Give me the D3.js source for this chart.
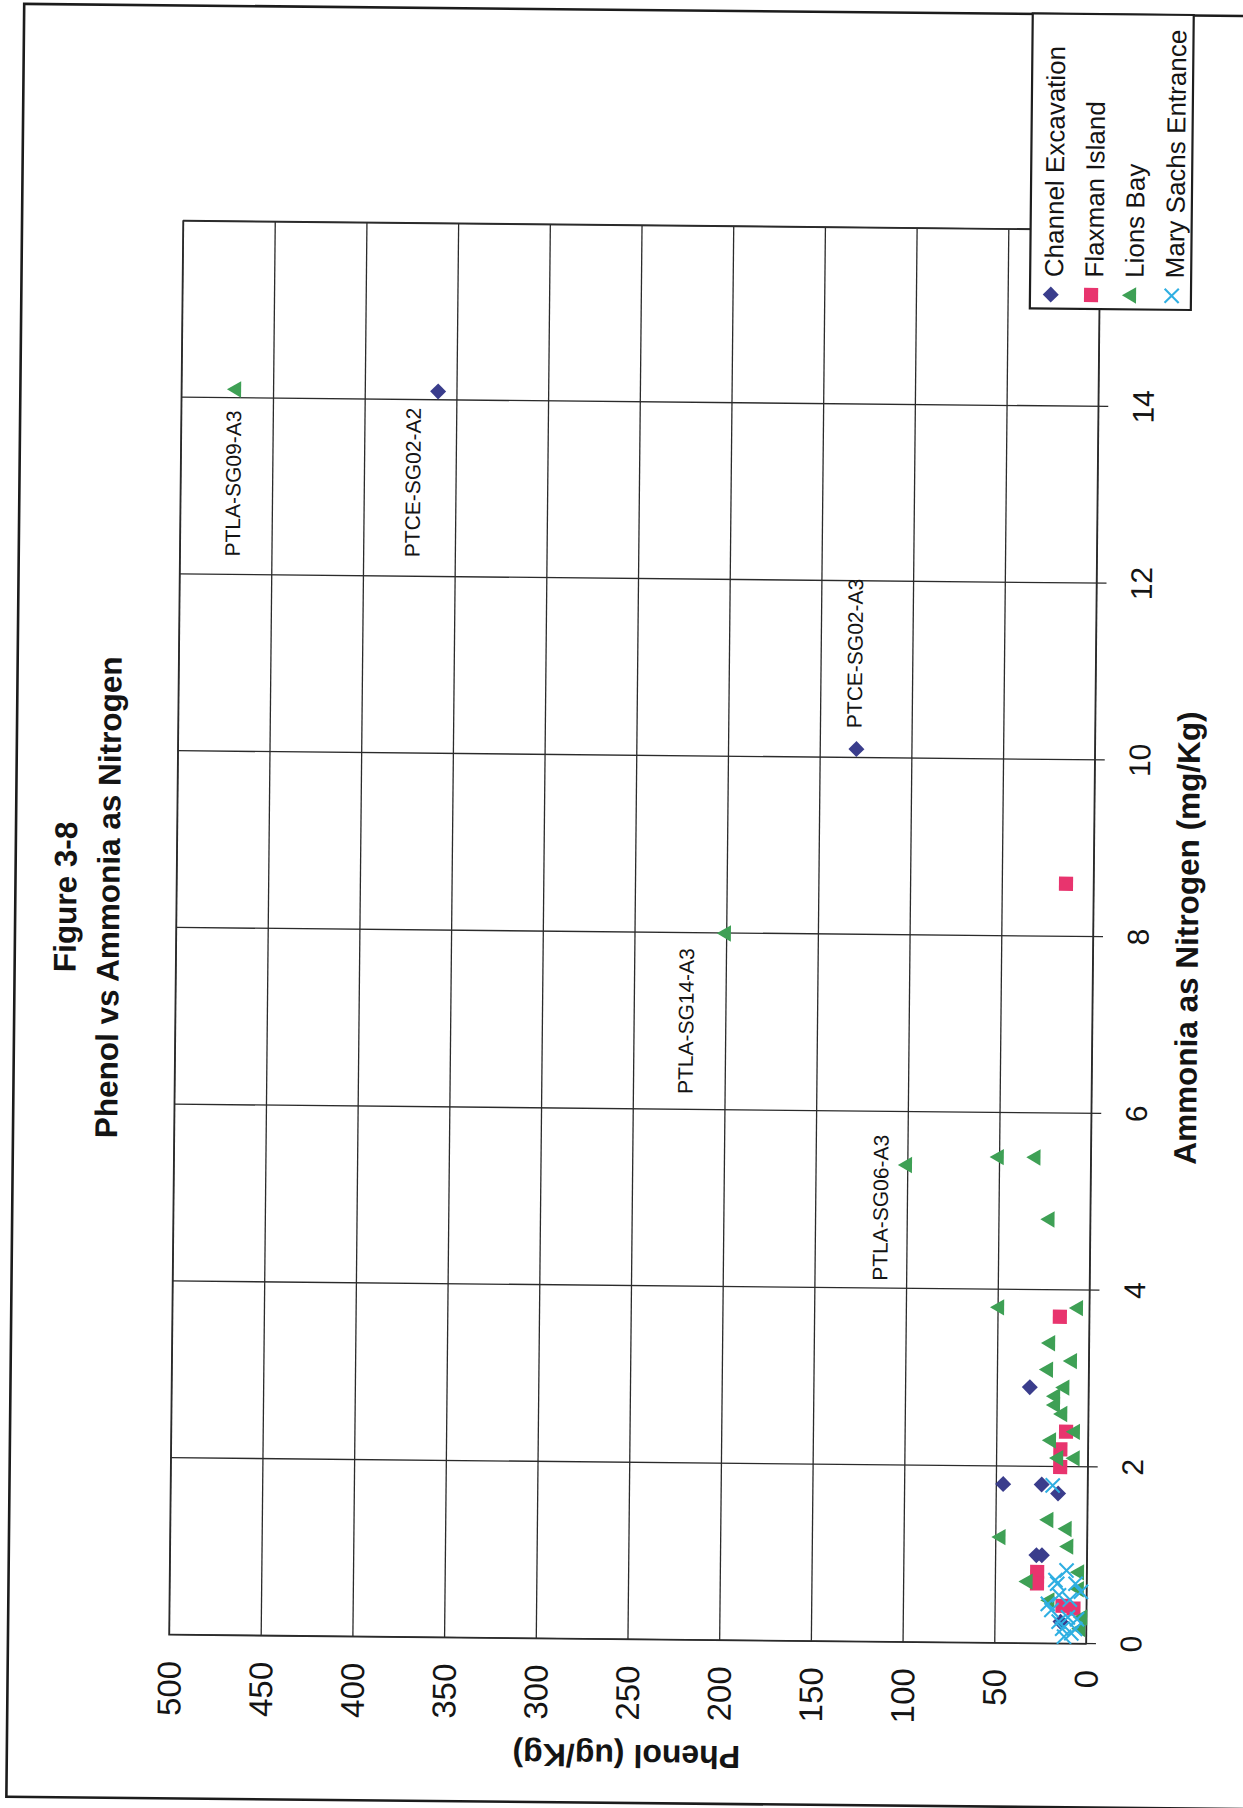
<!DOCTYPE html>
<html>
<head>
<meta charset="utf-8">
<title>Figure 3-8 Phenol vs Ammonia as Nitrogen</title>
<script src="https://cdn.jsdelivr.net/npm/d3@7"></script>
<style>
  html, body { margin: 0; padding: 0; background: #ffffff; }
  svg { display: block; }
  text { font-family: "Liberation Sans", Arial, Helvetica, sans-serif; fill: #141414; }
</style>
</head>
<body>
<svg id="chart" width="1243" height="1808"></svg>
<script>
// ---- data -------------------------------------------------------------
const ammoniaTicks = [0, 2, 4, 6, 8, 10, 12, 14, 16];
const phenolTicks = [0, 50, 100, 150, 200, 250, 300, 350, 400, 450, 500];
const seriesNames = ["Channel Excavation", "Flaxman Island", "Lions Bay", "Mary Sachs Entrance"];

// each point: [ammonia as nitrogen (mg/Kg), phenol (ug/Kg)]
const channelExcavation = [
  [14.1, 360], [10.1, 130], [2.9, 32], [1.8, 46], [1.8, 25], [1.7, 16],
  [1.0, 27.5], [1.0, 24.5], [0.25, 14]
];
const flaxmanIsland = [
  [8.6, 15], [3.7, 16], [2.4, 12], [2.2, 15], [2.0, 15], [0.81, 27],
  [0.68, 27], [0.43, 13], [0.40, 7]
];
const lionsBay = [
  [14.1, 470], [8.0, 200], [5.4, 100], [5.5, 50], [5.5, 30], [4.8, 22],
  [3.8, 49], [3.8, 6], [3.4, 21], [3.2, 9], [3.1, 22], [2.9, 13],
  [2.8, 18], [2.7, 18], [2.6, 14], [2.4, 7], [2.3, 20], [2.1, 16],
  [2.1, 7], [1.4, 21], [1.3, 11], [1.2, 47], [1.1, 10], [0.70, 32],
  [0.81, 4], [0.62, 4], [0.49, 20], [0.30, 2], [0.17, 3]
];
const marySachsEntrance = [
  [1.79, 19], [0.83, 11], [0.72, 17], [0.68, 16], [0.68, 6], [0.59, 3],
  [0.55, 15], [0.50, 9], [0.45, 21], [0.38, 19], [0.30, 10], [0.28, 5],
  [0.25, 15], [0.17, 13], [0.17, 6], [0.12, 8], [0.08, 12]
];

// sample ids written next to individual points (series name, index in that series)
const sampleLabels = [
  { series: "Lions Bay", index: 0, text: "PTLA-SG09-A3" },
  { series: "Channel Excavation", index: 0, text: "PTCE-SG02-A2" },
  { series: "Channel Excavation", index: 1, text: "PTCE-SG02-A3" },
  { series: "Lions Bay", index: 1, text: "PTLA-SG14-A3" },
  { series: "Lions Bay", index: 2, text: "PTLA-SG06-A3" }
];

// ---- layout -----------------------------------------------------------
const labelOffsets = [[-167, 5], [-166, -17], [21, 5], [-161, -32], [-116, -19]];
const sheetTilt = 0.57;          // the printed sheet sits slightly askew
const W = 1414, H = 917;         // plot area of the landscape chart

const seriesData = {
  "Channel Excavation": channelExcavation,
  "Flaxman Island": flaxmanIsland,
  "Lions Bay": lionsBay,
  "Mary Sachs Entrance": marySachsEntrance
};

const crossSymbol = {
  draw(ctx, size) {
    const r = Math.sqrt(size) / 2;
    ctx.moveTo(-r, -r); ctx.lineTo(r, r);
    ctx.moveTo(-r, r); ctx.lineTo(r, -r);
  }
};

const seriesStyle = {
  "Channel Excavation": { type: d3.symbolSquare, size: 128, rotate: 45, fill: "#3a3d8c", stroke: "none" },
  "Flaxman Island":     { type: d3.symbolSquare, size: 200, rotate: 0, fill: "#e8346e", stroke: "none" },
  "Lions Bay":          { type: d3.symbolTriangle, size: 116, rotate: 0, fill: "#3ea055", stroke: "none" },
  "Mary Sachs Entrance":{ type: crossSymbol, size: 200, rotate: 0, fill: "none", stroke: "#2fafe2" }
};

const svg = d3.select("#chart");
svg.append("rect").attr("width", 1243).attr("height", 1808).attr("fill", "#ffffff");

const sheet = svg.append("g").attr("transform", `rotate(${sheetTilt} 634.5 932.5)`);

// page frame
sheet.append("rect")
  .attr("x", 15).attr("y", 10).attr("width", 1260).attr("height", 1793)
  .attr("fill", "none").attr("stroke", "#1c1c1c").attr("stroke-width", 2.6);

// the chart is laid out in landscape and turned a quarter turn on the page
const g = sheet.append("g").attr("transform", "translate(176,1639.5) rotate(-90)");

const x = d3.scaleLinear().domain([0, 16]).range([0, W]);
const y = d3.scaleLinear().domain([0, 500]).range([H, 0]);

// phenol axis with horizontal gridlines
g.append("g")
  .call(d3.axisLeft(y).tickValues(phenolTicks).tickSizeInner(-W).tickSizeOuter(0).tickPadding(26))
  .call(a => a.select(".domain").remove())
  .call(a => a.selectAll(".tick line").attr("stroke", "#2b2b2b").attr("stroke-width", 1.3))
  .call(a => a.selectAll(".tick text").attr("font-size", 33).attr("dy", "0.35em"));

// ammonia axis with vertical gridlines and outward ticks
g.append("g")
  .attr("transform", `translate(0,${H + 10})`)
  .call(d3.axisBottom(x).tickValues(ammoniaTicks).tickSizeInner(-(H + 10)).tickSizeOuter(0).tickFormat(d3.format("d")))
  .call(a => a.select(".domain").remove())
  .call(a => a.selectAll(".tick line").attr("stroke", "#2b2b2b").attr("stroke-width", 1.3))
  .call(a => a.selectAll(".tick text").attr("font-size", 30).attr("y", 45.5).attr("dy", null));

// plot frame
g.append("rect").attr("width", W).attr("height", H)
  .attr("fill", "none").attr("stroke", "#2b2b2b").attr("stroke-width", 1.4);

// markers
const symbolPath = (name) => d3.symbol().type(seriesStyle[name].type).size(seriesStyle[name].size)();
seriesNames.forEach(name => {
  const st = seriesStyle[name];
  g.append("g").attr("class", "series")
    .selectAll("path")
    .data(seriesData[name])
    .join("path")
    .attr("d", symbolPath(name))
    .attr("transform", d => `translate(${x(d[0])},${y(d[1])})` + (st.rotate ? ` rotate(${st.rotate})` : ""))
    .attr("fill", st.fill)
    .attr("stroke", st.stroke)
    .attr("stroke-width", st.stroke === "none" ? null : 2.1);
});

// sample labels
g.append("g").selectAll("text")
  .data(sampleLabels)
  .join("text")
  .attr("x", (d, i) => x(seriesData[d.series][d.index][0]) + labelOffsets[i][0])
  .attr("y", (d, i) => y(seriesData[d.series][d.index][1]) + labelOffsets[i][1])
  .attr("font-size", 21)
  .text(d => d.text);

// titles
g.append("text").attr("x", 737).attr("y", -100).attr("text-anchor", "middle")
  .attr("font-weight", "bold").attr("font-size", 31.5).text("Figure 3-8");
g.append("text").attr("x", 737).attr("y", -57).attr("text-anchor", "middle")
  .attr("font-weight", "bold").attr("font-size", 31.5).text("Phenol vs Ammonia as Nitrogen");

g.append("text").attr("x", W / 2).attr("y", 1022).attr("text-anchor", "middle")
  .attr("font-weight", "bold").attr("font-size", 31.5).text("Ammonia as Nitrogen (mg/Kg)");
g.append("text").attr("transform", `translate(-105.5,${H / 2}) rotate(-90)`).attr("text-anchor", "middle")
  .attr("font-weight", "bold").attr("font-size", 32).text("Phenol (ug/Kg)");

// legend
const legend = g.append("g").attr("transform", "translate(1335,847.6)");
legend.append("rect").attr("width", 295).attr("height", 161)
  .attr("fill", "#ffffff").attr("stroke", "#1e1e1e").attr("stroke-width", 2.2);
const rows = legend.selectAll("g.row").data(seriesNames).join("g")
  .attr("class", "row")
  .attr("transform", (d, i) => `translate(0,${20.8 + i * 40.3})`);
rows.append("path")
  .attr("d", d => symbolPath(d))
  .attr("transform", d => `translate(14,0)` + (seriesStyle[d].rotate ? ` rotate(${seriesStyle[d].rotate})` : ""))
  .attr("fill", d => seriesStyle[d].fill)
  .attr("stroke", d => seriesStyle[d].stroke)
  .attr("stroke-width", d => seriesStyle[d].stroke === "none" ? null : 2.1);
rows.append("text").attr("x", 31.5).attr("y", 12).attr("font-size", 26).text(d => d);
</script>
</body>
</html>
